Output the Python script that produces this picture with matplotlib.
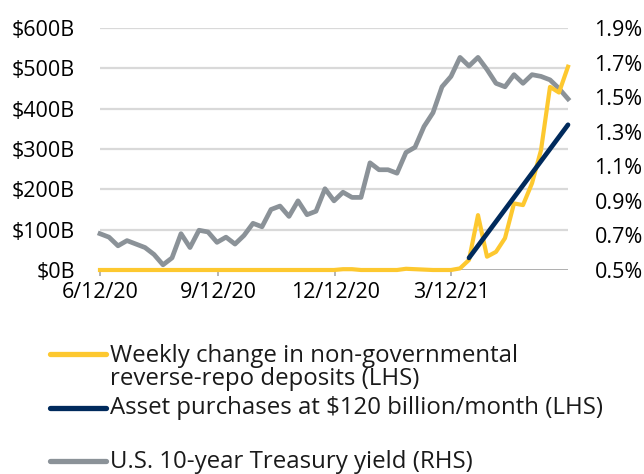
import pandas as pd
import matplotlib.pyplot as plt
from matplotlib.lines import Line2D

# weekly observations, Fridays
dates = pd.date_range("2020-06-12", periods=53, freq="7D")

# weekly change in non-governmental reverse-repo deposits, $B (LHS)
rrp_change = [0] * 27 + [2, 2, 0, 0, 0, 0, 0, 3, 2, 1, 0, 0, 0,
                         4, 25, 136, 33, 45, 79, 165, 161, 215, 297, 454, 440, 504]

# asset purchases at $120B/month, cumulative $B (LHS), from 3/26/21
qe_dates = dates[41:]
qe_cum = [30, 60, 90, 120, 150, 180, 210, 240, 270, 300, 330, 360]

# U.S. 10-year Treasury yield, % (RHS)
ust10 = [0.71, 0.69, 0.64, 0.67, 0.65, 0.63, 0.59, 0.53, 0.57, 0.71, 0.63, 0.73,
         0.72, 0.66, 0.69, 0.65, 0.70, 0.77, 0.75, 0.85, 0.87, 0.81, 0.90, 0.82,
         0.84, 0.97, 0.90, 0.95, 0.92, 0.92, 1.12, 1.08, 1.08, 1.06, 1.18, 1.21,
         1.33, 1.41, 1.56, 1.62, 1.73, 1.68, 1.73, 1.66, 1.58, 1.56, 1.63, 1.58,
         1.63, 1.62, 1.60, 1.55, 1.49]

left_ticks = [0, 100, 200, 300, 400, 500, 600]
left_labels = ["$0B", "$100B", "$200B", "$300B", "$400B", "$500B", "$600B"]
right_ticks = [0.5, 0.7, 0.9, 1.1, 1.3, 1.5, 1.7, 1.9]
right_labels = ["0.5%", "0.7%", "0.9%", "1.1%", "1.3%", "1.5%", "1.7%", "1.9%"]
x_ticks = pd.to_datetime(["2020-06-12", "2020-09-12", "2020-12-12", "2021-03-12"])
x_labels = ["6/12/20", "9/12/20", "12/12/20", "3/12/21"]

YELLOW = "#fdc82f"
NAVY = "#002a5c"
GREY = "#8b9298"
GRID = "#d9d9d9"
BASE = "#a8a8a8"

plt.rcParams["font.family"] = ["Open Sans", "DejaVu Sans"]
FS = 15.5
LEG_FS = 17.3

W, H = 644, 474
fig = plt.figure(figsize=(W / 100, H / 100), dpi=100)
pos = [100 / W, 204 / H, 468 / W, 242 / H]

# background axes only for the horizontal grid, so lines sit on top
bg = fig.add_axes(pos)
bg.set_ylim(0, 600)
bg.set_yticks(left_ticks[1:])
bg.grid(axis="y", color=GRID, lw=1.6)
bg.set_xticks([])
bg.tick_params(left=False, labelleft=False)
for s in bg.spines.values():
    s.set_visible(False)

ax = fig.add_axes(pos)
ax2 = ax.twinx()
ax.set_zorder(3)
ax2.set_zorder(2)
ax.patch.set_visible(False)
ax2.patch.set_visible(False)

ax2.plot(dates, ust10, color=GREY, lw=3.4, clip_on=False)
ax.axhline(0, color=BASE, lw=2, zorder=1)
ax.plot(dates, rrp_change, color=YELLOW, lw=3, clip_on=False, zorder=3)
ax.plot(qe_dates, qe_cum, color=NAVY, lw=3.4, solid_capstyle="round",
        clip_on=False, zorder=4)

ax.set_xlim(dates[0], dates[-1])
ax.set_ylim(0, 600)
ax2.set_ylim(0.5, 1.9)

ax.set_yticks(left_ticks)
ax.set_yticklabels(left_labels, fontsize=FS)
ax2.set_yticks(right_ticks)
ax2.set_yticklabels(right_labels, fontsize=FS)
ax.set_xticks(x_ticks)
ax.set_xticklabels(x_labels, fontsize=FS)

ax.tick_params(axis="y", length=0, pad=18)
ax2.tick_params(axis="y", length=0, pad=19)
ax.tick_params(axis="x", length=4, width=1.2, color=BASE, pad=5)
for a in (ax, ax2):
    for s in a.spines.values():
        s.set_visible(False)

# legend, drawn by hand to keep the first-line alignment
def fy(y):
    return 1 - y / H

for y, col in [(354, YELLOW), (408, NAVY), (461, GREY)]:
    fig.add_artist(Line2D([50 / W, 106 / W], [fy(y), fy(y)], color=col, lw=3.8,
                          solid_capstyle="round", transform=fig.transFigure))

# (baseline y in px, text)
legend_lines = [
    (361.5, "Weekly change in non-governmental"),
    (385, "reverse-repo deposits (LHS)"),
    (414.5, "Asset purchases at $120 billion/month (LHS)"),
    (468.5, "U.S. 10-year Treasury yield (RHS)"),
]
for y, txt in legend_lines:
    fig.text(110 / W, fy(y), txt, fontsize=LEG_FS, va="baseline", ha="left",
             color="#1a1a1a")

fig.savefig("out.png", dpi=100)
